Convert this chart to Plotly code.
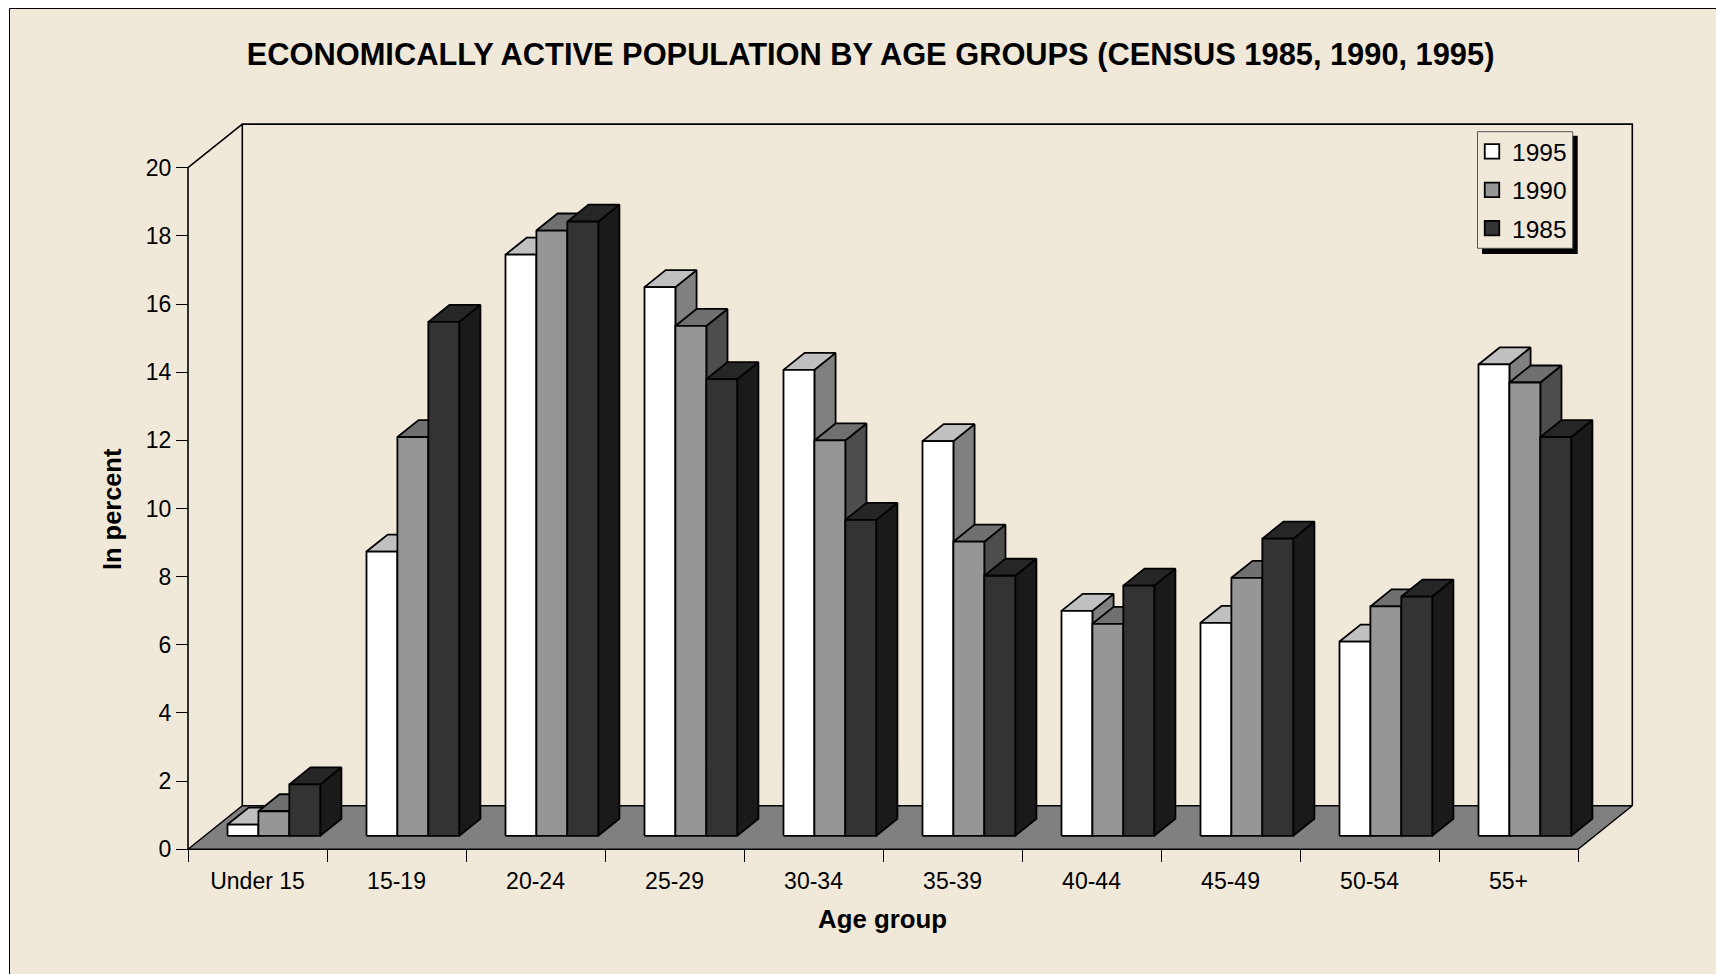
import plotly.graph_objects as go

# Percent of the economically active population per age group
age_groups = ["Under 15", "15-19", "20-24", "25-29", "30-34", "35-39", "40-44", "45-49", "50-54", "55+"]
share_1995 = [0.33, 8.34, 17.05, 16.1, 13.67, 11.58, 6.6, 6.25, 5.7, 13.83]
share_1990 = [0.72, 11.7, 17.76, 14.96, 11.6, 8.63, 6.22, 7.57, 6.73, 13.3]
share_1985 = [1.51, 15.08, 18.02, 13.4, 9.27, 7.63, 7.34, 8.72, 7.02, 11.7]
y_ticks = list(range(0, 21, 2))

W, H = 1716, 974
BG = "#F0E8D9"
FONT = "Liberation Sans"

# Plot geometry in pixels: axis origin, one category, one percent unit
X0, Y0 = 188.0, 849.3
CAT_PX, UNIT_PX = 139.0, 34.08
# Oblique projection of the chart depth, in axis units
DEPTH_X, DEPTH_Y = 54.3 / CAT_PX, 43.6 / UNIT_PX
BAR_FRONT, BAR_BACK = 0.31, 0.70
BAR_W, BAR_GAP = 0.2224, 0.163
PAD_X, PAD_Y = 0.04, 0.15

series = [
    ("1995", share_1995, "#FFFFFF", "#C0C0C0", "#808080"),
    ("1990", share_1990, "#969696", "#707070", "#4D4D4D"),
    ("1985", share_1985, "#333333", "#262626", "#1A1A1A"),
]


def project(x, y, depth):
    return x + depth * DEPTH_X, y + depth * DEPTH_Y


def polygon(points):
    xs, ys = [], []
    for p in points + points[:1]:
        px, py = project(*p)
        xs.append(px)
        ys.append(py)
    xs.append(None)
    ys.append(None)
    return xs, ys


def face(xs, ys, fill, lw=1.8):
    return go.Scatter(
        x=xs, y=ys, mode="lines", fill="toself", fillcolor=fill,
        line=dict(color="#000000", width=lw), hoverinfo="skip", showlegend=False,
    )


fig = go.Figure()

# Walls of the chart box
wall = [(0, 0, 0), (0, 20, 0), (0, 20, 1), (0, 0, 1), (0, 20, 1), (10, 20, 1), (10, 0, 1)]
wall_xy = [project(*p) for p in wall]
fig.add_trace(go.Scatter(
    x=[p[0] for p in wall_xy], y=[p[1] for p in wall_xy], mode="lines",
    line=dict(color="#000000", width=1.6), hoverinfo="skip", showlegend=False,
))

# Floor
fx, fy = polygon([(0, 0, 0), (10, 0, 0), (10, 0, 1), (0, 0, 1)])
fig.add_trace(face(fx, fy, "#808080", 1.4))

# Bars, one series at a time from left to right so that nearer faces cover the earlier ones
for s_idx, (name, values, front, top, side) in enumerate(series):
    side_x, side_y, top_x, top_y, front_x, front_y = [], [], [], [], [], []
    for c_idx, v in enumerate(values):
        x1 = c_idx + BAR_GAP + s_idx * BAR_W
        x2 = x1 + BAR_W
        px, py = polygon([(x2, 0, BAR_FRONT), (x2, 0, BAR_BACK), (x2, v, BAR_BACK), (x2, v, BAR_FRONT)])
        side_x += px
        side_y += py
        px, py = polygon([(x1, v, BAR_FRONT), (x1, v, BAR_BACK), (x2, v, BAR_BACK), (x2, v, BAR_FRONT)])
        top_x += px
        top_y += py
        px, py = polygon([(x1, 0, BAR_FRONT), (x2, 0, BAR_FRONT), (x2, v, BAR_FRONT), (x1, v, BAR_FRONT)])
        front_x += px
        front_y += py
    fig.add_trace(face(side_x, side_y, side))
    fig.add_trace(face(top_x, top_y, top))
    fig.add_trace(face(front_x, front_y, front))

# Legend entries
for name, values, front, top, side in series:
    fig.add_trace(go.Scatter(
        x=[None], y=[None], mode="markers", name=name, legendgroup=name,
        marker=dict(symbol="square", size=14.5, color=front, line=dict(color="#000000", width=1.8)),
    ))


def px_x(x):
    return x / W


def px_y(y):
    return 1 - y / H


x_lo, x_hi = -PAD_X, 10 + DEPTH_X + PAD_X
y_lo, y_hi = -PAD_Y, 20 + DEPTH_Y + PAD_Y

fig.update_layout(
    width=W, height=H, autosize=False,
    margin=dict(l=0, r=0, t=0, b=0, pad=0, autoexpand=False),
    paper_bgcolor="#FFFFFF", plot_bgcolor="rgba(0,0,0,0)",
    font=dict(family=FONT, size=23, color="#000000"),
    title=dict(
        text="<b>ECONOMICALLY ACTIVE POPULATION BY AGE GROUPS (CENSUS 1985, 1990, 1995)</b>",
        font=dict(family=FONT, size=30.8, color="#000000"),
        xref="paper", yref="paper", x=px_x(870.6), y=px_y(54),
        xanchor="center", yanchor="middle",
    ),
    xaxis=dict(
        range=[x_lo, x_hi], autorange=False,
        domain=[px_x(X0 + x_lo * CAT_PX), px_x(X0 + x_hi * CAT_PX)],
        anchor="free", position=px_y(Y0),
        tickmode="array",
        tickvals=[i + 0.5 for i in range(len(age_groups))], ticktext=age_groups,
        ticks="", ticklen=0, showgrid=False, zeroline=False, showline=False,
        ticklabelstandoff=16,
        tickfont=dict(family=FONT, size=23, color="#000000"),
        minor=dict(tickmode="array", tickvals=list(range(len(age_groups) + 1)), ticks="outside",
                   ticklen=12, tickwidth=1, tickcolor="#000000", showgrid=False),
    ),
    yaxis=dict(
        range=[y_lo, y_hi], autorange=False,
        domain=[px_y(Y0 - y_lo * UNIT_PX), px_y(Y0 - y_hi * UNIT_PX)],
        anchor="free", position=px_x(X0),
        tickmode="array", tickvals=y_ticks, ticktext=[str(t) for t in y_ticks],
        ticks="outside", ticklen=12, tickwidth=1, tickcolor="#000000",
        showgrid=False, zeroline=False, showline=False,
        tickfont=dict(family=FONT, size=23, color="#000000"),
    ),
    legend=dict(
        x=px_x(1472), y=px_y(129), xanchor="left", yanchor="top",
        bgcolor="rgba(0,0,0,0)", borderwidth=0,
        tracegroupgap=3.5, traceorder="grouped",
        font=dict(family=FONT, size=24.5, color="#000000"),
    ),
    shapes=[
        # Chart area with its thin border
        dict(type="rect", xref="paper", yref="paper", layer="below",
             x0=px_x(9.5), x1=px_x(1730), y0=px_y(8.5), y1=px_y(990),
             fillcolor=BG, line=dict(color="#000000", width=1)),
        # Drop shadow and panel behind the legend
        dict(type="rect", xref="paper", yref="paper", layer="above",
             x0=px_x(1482), x1=px_x(1577.7), y0=px_y(135.7), y1=px_y(254),
             fillcolor="#000000", line=dict(width=0)),
        dict(type="rect", xref="paper", yref="paper", layer="above",
             x0=px_x(1477.5), x1=px_x(1572.7), y0=px_y(131.7), y1=px_y(248.3),
             fillcolor=BG, line=dict(color="#555555", width=1)),
    ],
    annotations=[
        dict(text="<b>Age group</b>", xref="paper", yref="paper", x=px_x(882), y=px_y(919),
             xanchor="center", yanchor="middle", showarrow=False,
             font=dict(family=FONT, size=25.8, color="#000000")),
        dict(text="<b>In percent</b>", xref="paper", yref="paper", x=px_x(112), y=px_y(509),
             xanchor="center", yanchor="middle", showarrow=False, textangle=-90,
             font=dict(family=FONT, size=25.4, color="#000000")),
    ],
)

fig.write_html("out.html", config={"displayModeBar": False})
